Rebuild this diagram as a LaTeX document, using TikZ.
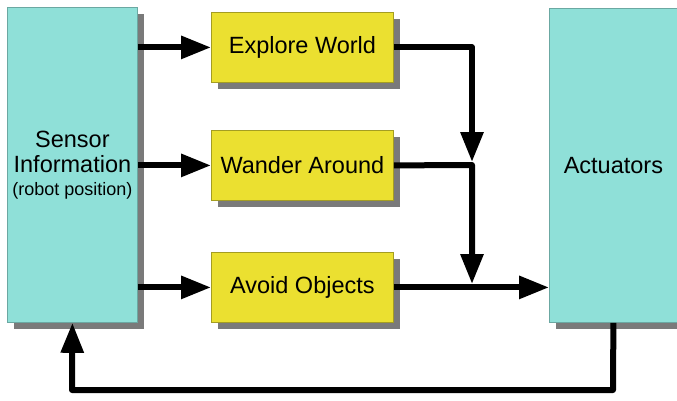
\documentclass[tikz,border=0pt]{standalone}
\usepackage{fontspec}
\setmainfont{Liberation Sans}
\usetikzlibrary{arrows.meta,shadows}
\definecolor{cyanbox}{HTML}{8FE0D8}
\definecolor{yellowbox}{HTML}{EBE030}
\definecolor{shadowgray}{HTML}{7A7A7A}
\begin{document}
\begin{tikzpicture}[x=1pt,y=-1pt,
  box/.style={anchor=north west, inner sep=0pt, align=center,
    font=\fontsize{23.5}{25}\selectfont, line width=0.8pt,
    general shadow={shadow xshift=7pt, shadow yshift=-7pt, fill=shadowgray}},
  cbox/.style={box, fill=cyanbox, draw=cyanbox!75!black},
  ybox/.style={box, fill=yellowbox, draw=yellowbox!70!black,
    minimum width=182pt, minimum height=70pt},
  flow/.style={line width=6pt, line join=round, -{Triangle[length=30pt,width=22pt]}}]
\useasboundingbox (0,0) rectangle (677,400);
\node[cbox, minimum width=130pt, minimum height=315pt] (sensor) at (7,7)
  {Sensor\\Information\\[-2pt]{\fontsize{18}{20}\selectfont (robot position)}};
\node[ybox] (explore) at (211,12) {Explore World};
\node[ybox] (wander) at (211,130) {Wander Around};
\node[ybox] (avoid) at (211,252) {Avoid Objects};
\node[cbox, minimum width=128pt, minimum height=314pt] (act) at (549,8) {Actuators};
\coordinate (j1) at (472,165);
\coordinate (j2) at (472,287);
\coordinate (fbR) at (613,390);
\coordinate (fbL) at (72,390);
\draw[flow] (sensor.east |- explore.west) -- (explore.west);
\draw[flow] (sensor.east |- wander.west) -- (wander.west);
\draw[flow] (sensor.east |- avoid.west) -- (avoid.west);
\draw[flow, shorten >=3pt] (explore.east) -| (j1);
\draw[flow, shorten >=3pt] (wander.east) -- (j1) -- (j2);
\draw[flow] (avoid.east) -- (act.west |- avoid.east);
\draw[flow] (act.south) -- (fbR) -- (fbL) -- (sensor.south);
\end{tikzpicture}
\end{document}
